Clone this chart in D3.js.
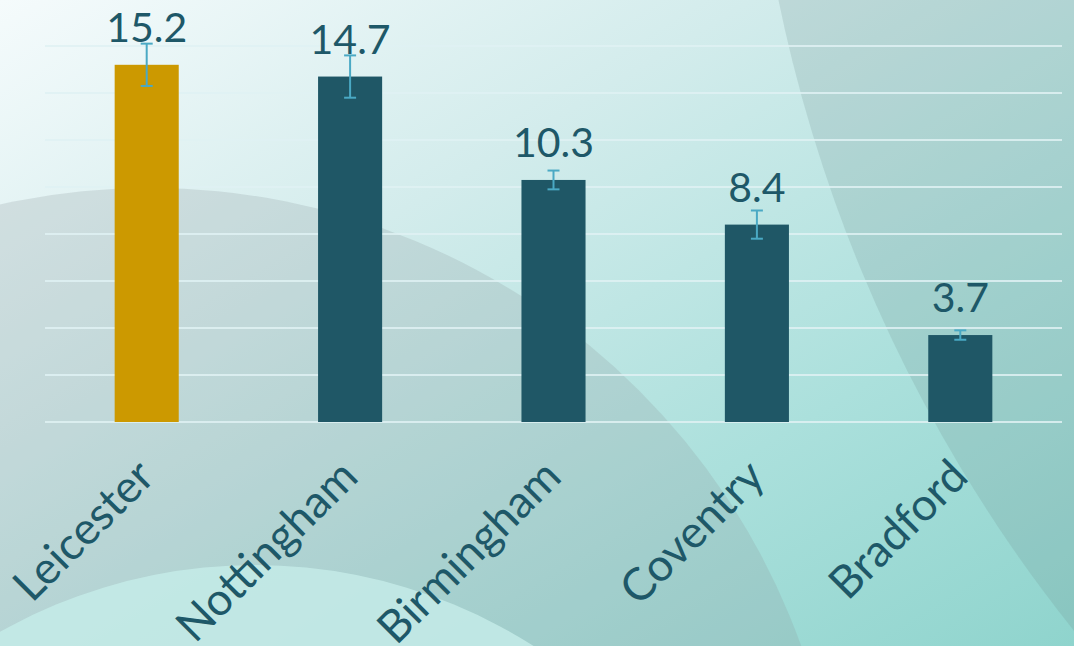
<!DOCTYPE html>
<html>
<head>
<meta charset="utf-8">
<script src="https://cdn.jsdelivr.net/npm/d3@7"></script>
<style>
  html, body { margin: 0; padding: 0; overflow: hidden; }
  svg { display: block; font-family: Lato, "Open Sans", sans-serif; }
</style>
</head>
<body>
<div id="chart"></div>
<script>
// Data
var cities = ["Leicester", "Nottingham", "Birmingham", "Coventry", "Bradford"];
var values = [15.2, 14.7, 10.3, 8.4, 3.7];
var errors = [0.9, 0.9, 0.4, 0.6, 0.2];
var gridTicks = [0, 2, 4, 6, 8, 10, 12, 14, 16];

var width = 1074, height = 646;
var plot = {left: 45, right: 1062, top: 46, bottom: 422};

var textColor = "#1e5868";
var barColor = "#1f5766";
var highlight = "#cc9900";
var errColor = "#4aa9c4";

var svg = d3.select("#chart").append("svg")
    .attr("width", width)
    .attr("height", height);

//////////////////////// Background ////////////////////////
var defs = svg.append("defs");
var bg = defs.append("linearGradient")
    .attr("id", "bg")
    .attr("x1", "0").attr("y1", "0")
    .attr("x2", "1").attr("y2", "1");
bg.append("stop").attr("offset", "0%").attr("stop-color", "#f5fbfc");
bg.append("stop").attr("offset", "35%").attr("stop-color", "#d3ecec");
bg.append("stop").attr("offset", "70%").attr("stop-color", "#abe0dc");
bg.append("stop").attr("offset", "100%").attr("stop-color", "#8fd4cd");

svg.append("rect")
    .attr("width", width)
    .attr("height", height)
    .attr("fill", "url(#bg)");

// big grey hill on the left
svg.append("circle")
    .attr("cx", 150).attr("cy", 880).attr("r", 692)
    .attr("fill", "#8e9c9f")
    .attr("opacity", 0.24);

// lighter hill at bottom left
svg.append("circle")
    .attr("cx", 255).attr("cy", 1085).attr("r", 520)
    .attr("fill", "#c4ebe8")
    .attr("opacity", 0.85);

// darker shape top right
svg.append("circle")
    .attr("cx", 2240).attr("cy", -300).attr("r", 1492)
    .attr("fill", "#6f8a8d")
    .attr("opacity", 0.2);

//////////////////////// Scales ////////////////////////////
var x = d3.scaleBand()
    .domain(cities)
    .range([plot.left, plot.right])
    .paddingInner(0.685)
    .paddingOuter(0.3425);

var y = d3.scaleLinear()
    .domain([0, 16])
    .range([plot.bottom, plot.top]);

// gridlines
svg.append("g").selectAll("line")
    .data(gridTicks)
    .enter().append("line")
    .attr("x1", plot.left)
    .attr("x2", plot.right)
    .attr("y1", function(d) { return y(d); })
    .attr("y2", function(d) { return y(d); })
    .style("stroke", "#e0f2f4")
    .style("stroke-width", 2)
    .style("opacity", 0.85);

// bars
svg.append("g").selectAll("rect")
    .data(values)
    .enter().append("rect")
    .attr("x", function(d, i) { return x(cities[i]); })
    .attr("y", function(d) { return y(d); })
    .attr("width", x.bandwidth())
    .attr("height", function(d) { return y(0) - y(d); })
    .style("fill", function(d, i) { return i === 0 ? highlight : barColor; });

// error bars
var eb = svg.append("g").selectAll("g")
    .data(values)
    .enter().append("g")
    .style("stroke", errColor)
    .style("stroke-width", 2);
eb.append("line")
    .attr("x1", function(d, i) { return x(cities[i]) + x.bandwidth() / 2; })
    .attr("x2", function(d, i) { return x(cities[i]) + x.bandwidth() / 2; })
    .attr("y1", function(d, i) { return y(d + errors[i]); })
    .attr("y2", function(d, i) { return y(d - errors[i]); });
[1, -1].forEach(function(sign) {
    eb.append("line")
        .attr("x1", function(d, i) { return x(cities[i]) + x.bandwidth() / 2 - 6; })
        .attr("x2", function(d, i) { return x(cities[i]) + x.bandwidth() / 2 + 6; })
        .attr("y1", function(d, i) { return y(d + sign * errors[i]); })
        .attr("y2", function(d, i) { return y(d + sign * errors[i]); });
});

// value labels
svg.append("g").selectAll("text")
    .data(values)
    .enter().append("text")
    .attr("x", function(d, i) { return x(cities[i]) + x.bandwidth() / 2; })
    .attr("y", function(d) { return y(d) - 23; })
    .attr("text-anchor", "middle")
    .style("font-size", "41px")
    .style("fill", textColor)
    .text(function(d) { return d.toFixed(1); });

// category labels, rotated
svg.append("g").selectAll("text")
    .data(cities)
    .enter().append("text")
    .attr("transform", function(d) {
        var cx = x(d) + x.bandwidth() / 2 + 10;
        return "translate(" + cx + "," + 479 + ") rotate(-45)";
    })
    .attr("text-anchor", "end")
    .style("font-size", "45px")
    .style("fill", textColor)
    .text(function(d) { return d; });
</script>
</body>
</html>
